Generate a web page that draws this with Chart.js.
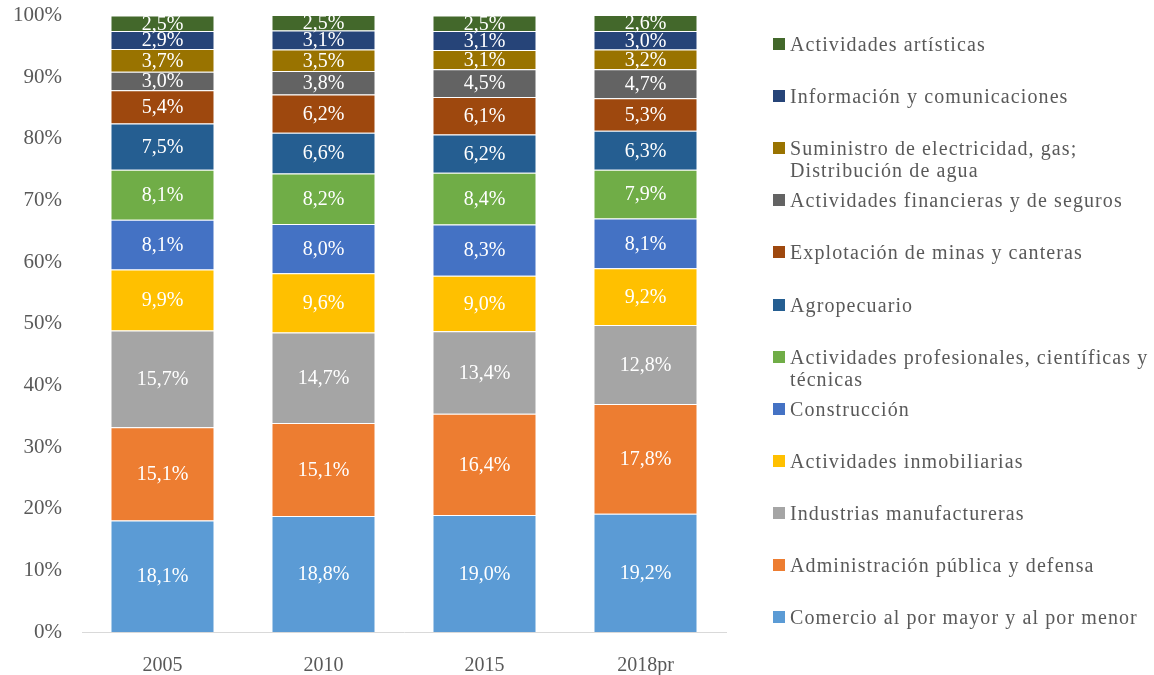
<!DOCTYPE html>
<html>
<head>
<meta charset="utf-8">
<script src="https://cdn.jsdelivr.net/npm/chart.js@4"></script>
<style>
  html, body { margin: 0; padding: 0; background: #fff; overflow: hidden; }
  #wrap { position: relative; width: 1154px; height: 675px; overflow: hidden; }
  #chart { position: absolute; left: 0; top: -9px; }
  #legend { position: absolute; left: 773px; top: 0; font-family: "Liberation Serif", serif; font-size: 20px; letter-spacing: 1.1px; color: #595959; }
  .item { position: absolute; left: 0; white-space: nowrap; line-height: 22px; }
  .sw { position: absolute; left: 0; top: 5px; width: 12px; height: 12px; }
  .txt { position: absolute; left: 17px; top: 0; }
</style>
</head>
<body>
<div id="wrap">
  <canvas id="chart" width="1154" height="684"></canvas>
  <div id="legend"></div>
</div>
<script>
// ===== Data =====
const years = ['2005', '2010', '2015', '2018pr'];

const seriesNames = [
  'Comercio al por mayor y al por menor',
  'Administración pública y defensa',
  'Industrias manufactureras',
  'Actividades inmobiliarias',
  'Construcción',
  ['Actividades profesionales, científicas y', 'técnicas'],
  'Agropecuario',
  'Explotación de minas y canteras',
  'Actividades financieras y de seguros',
  ['Suministro de electricidad, gas;', 'Distribución de agua'],
  'Información y comunicaciones',
  'Actividades artísticas'
];

const comercio = [18.1, 18.8, 19.0, 19.2];
const administracion = [15.1, 15.1, 16.4, 17.8];
const industrias = [15.7, 14.7, 13.4, 12.8];
const inmobiliarias = [9.9, 9.6, 9.0, 9.2];
const construccion = [8.1, 8.0, 8.3, 8.1];
const profesionales = [8.1, 8.2, 8.4, 7.9];
const agropecuario = [7.5, 6.6, 6.2, 6.3];
const minas = [5.4, 6.2, 6.1, 5.3];
const financieras = [3.0, 3.8, 4.5, 4.7];
const suministro = [3.7, 3.5, 3.1, 3.2];
const informacion = [2.9, 3.1, 3.1, 3.0];
const artisticas = [2.5, 2.5, 2.5, 2.6];

const seriesValues = [comercio, administracion, industrias, inmobiliarias, construccion,
  profesionales, agropecuario, minas, financieras, suministro, informacion, artisticas];

const colors = ['#5B9BD5', '#ED7D31', '#A5A5A5', '#FFC000', '#4472C4', '#70AD47',
  '#255E91', '#9E480E', '#636363', '#997300', '#264478', '#43682B'];

const yTicks = [0, 10, 20, 30, 40, 50, 60, 70, 80, 90, 100];

const fontFamily = '"Liberation Serif", serif';

// ===== Datasets =====
const datasets = seriesValues.map((vals, i) => ({
  label: Array.isArray(seriesNames[i]) ? seriesNames[i].join(' ') : seriesNames[i],
  data: vals,
  backgroundColor: colors[i],
  borderColor: 'rgba(255,255,255,0.45)',
  borderWidth: 1,
  barPercentage: 0.646,
  categoryPercentage: 1
}));

// ===== Bar value labels =====
const barLabels = {
  id: 'barLabels',
  afterDatasetsDraw(chart) {
    const ctx = chart.ctx;
    ctx.save();
    ctx.font = '20px ' + fontFamily;
    ctx.fillStyle = '#fff';
    ctx.textAlign = 'center';
    ctx.textBaseline = 'middle';
    chart.data.datasets.forEach((ds, i) => {
      chart.getDatasetMeta(i).data.forEach((bar, j) => {
        const v = ds.data[j];
        const y = (bar.y + bar.base) / 2;
        ctx.fillText(v.toFixed(1).replace('.', ',') + '%', bar.x, y + 1);
      });
    });
    ctx.restore();
  }
};

new Chart(document.getElementById('chart'), {
  type: 'bar',
  data: { labels: years, datasets: datasets },
  options: {
    responsive: false,
    animation: false,
    layout: { padding: { top: 0, right: 428, left: 0, bottom: 0 } },
    plugins: {
      legend: { display: false },
      tooltip: { enabled: false }
    },
    scales: {
      x: {
        stacked: true,
        grid: { display: false },
        border: { display: true, color: '#D9D9D9' },
        ticks: { color: '#595959', font: { family: fontFamily, size: 20 }, padding: 14 },
        afterFit: s => { s.height = 43; }
      },
      y: {
        stacked: true,
        min: 0,
        max: 100,
        grid: { display: false },
        border: { display: false },
        afterBuildTicks: s => { s.ticks = yTicks.map(v => ({ value: v })); },
        ticks: {
          color: '#595959',
          font: { family: fontFamily, size: 21 },
          padding: 12,
          callback: v => v + '%'
        },
        afterFit: s => { s.width = 82; }
      }
    }
  },
  plugins: [barLabels]
});

// ===== Legend =====
const legend = document.getElementById('legend');
for (let i = seriesNames.length - 1, k = 0; i >= 0; i--, k++) {
  const item = document.createElement('div');
  item.className = 'item';
  item.style.top = (33 + k * 52.1) + 'px';
  const sw = document.createElement('span');
  sw.className = 'sw';
  sw.style.background = colors[i];
  const txt = document.createElement('span');
  txt.className = 'txt';
  const name = seriesNames[i];
  txt.innerHTML = Array.isArray(name) ? name.join('<br>') : name;
  item.appendChild(sw);
  item.appendChild(txt);
  legend.appendChild(item);
}
</script>
</body>
</html>
